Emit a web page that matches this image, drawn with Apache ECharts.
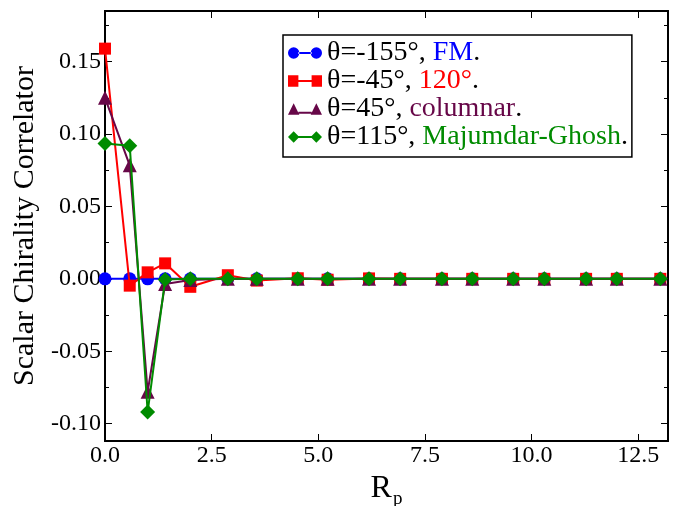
<!DOCTYPE html>
<html><head><meta charset="utf-8">
<script src="https://cdn.jsdelivr.net/npm/echarts@6/dist/echarts.min.js"></script>
<style>html,body{margin:0;padding:0;background:#fff}#c{width:680px;height:506px}</style>
</head><body><div id="c"></div>
<script>
const xValues = [0, 0.58, 1.0, 1.41, 2.0, 2.88, 3.56, 4.52, 5.22, 6.19, 6.92, 7.9, 8.61, 9.57, 10.3, 11.28, 12.0, 13.02];
const fmValues = [0, 0, 0, 0, 0, 0, 0, 0, 0, 0, 0, 0, 0, 0, 0, 0, 0, 0];
const v120Values = [0.159, -0.0047, 0.0045, 0.0107, -0.0055, 0.0025, -0.0012, 0.0004, -0.0006, 0.0003, 0, 0, 0, 0, 0, 0, 0, 0];
const columnarValues = [0.125, 0.0784, -0.078, -0.0035, -0.0008, 0, 0, 0, 0, 0, 0, 0, 0, 0, 0, 0, 0, 0];
const mgValues = [0.0935, 0.092, -0.092, -0.0005, 0, 0, 0, 0, 0, 0, 0, 0, 0, 0, 0, 0, 0, 0];
const xTicks = [0, 2.5, 5, 7.5, 10, 12.5];
const yTicks = [-0.1, -0.05, 0, 0.05, 0.1, 0.15];
const yMinorTicks = [-0.075, -0.025, 0.025, 0.075, 0.125, 0.175];
const seriesNames = ['θ=-155°, FM.', 'θ=-45°, 120°.', 'θ=45°, columnar.', 'θ=115°, Majumdar-Ghosh.'];

const FONT = '"Liberation Serif", "DejaVu Serif", serif';
const BLUE = '#0000ff', RED = '#ff0000', PURPLE = '#670748', GREEN = '#008b00';
const colors = [BLUE, RED, PURPLE, GREEN];
const symbols = ['circle', 'rect', 'triangle', 'diamond'];
const symSizes = [13, 12, 14, 15];
const values = [fmValues, v120Values, columnarValues, mgValues];

const icons = [
  'path://M0,6a6,6 0 1,0 12,0a6,6 0 1,0 -12,0ZM11,5L25,5L25,7L11,7ZM24,6a6,6 0 1,0 12,0a6,6 0 1,0 -12,0Z',
  'path://M0,0L11,0L11,12L0,12ZM11,5L25,5L25,7L11,7ZM25,0L36,0L36,12L25,12Z',
  'path://M0,12L6,0L12,12ZM11,9L25,9L25,11L11,11ZM24,12L30,0L36,12Z',
  'path://M0,6L6,0L12,6L6,12ZM11,5L25,5L25,7L11,7ZM24,6L30,0L36,6L30,12Z'
];

const chart = echarts.init(document.getElementById('c'));
const yMin = -0.112, yMax = 0.185, xMin = 0, xMax = 13.2;

function yAx(pos, ticks, len, labels) {
  return {
    type: 'value', position: pos, min: yMin, max: yMax,
    axisLine: { show: true, onZero: false, lineStyle: { color: '#000', width: 2 } },
    axisTick: { show: true, inside: true, length: len, customValues: ticks, lineStyle: { color: '#000', width: 1 } },
    axisLabel: labels ? { show: true, customValues: yTicks, fontFamily: FONT, fontSize: 24, color: '#000', margin: 4,
      padding: [4, 0, 0, 0], formatter: v => v.toFixed(2) } : { show: false },
    splitLine: { show: false },
    name: labels ? 'Scalar Chirality Correlator' : '',
    nameLocation: 'middle', nameGap: 60,
    nameTextStyle: { fontFamily: FONT, fontSize: 30, color: '#000' }
  };
}
function xAx(pos, labels) {
  return {
    type: 'value', position: pos, min: xMin, max: xMax,
    axisLine: { show: true, onZero: false, lineStyle: { color: '#000', width: 2 } },
    axisTick: { show: true, inside: true, length: 7, customValues: xTicks, lineStyle: { color: '#000', width: 1 } },
    axisLabel: labels ? { show: true, customValues: xTicks, fontFamily: FONT, fontSize: 24, color: '#000', margin: 3,
      formatter: v => v.toFixed(1) } : { show: false },
    splitLine: { show: false },
    name: labels ? '{r|R}{p|p}' : '',
    nameLocation: 'middle', nameGap: 10,
    nameTextStyle: { rich: { r: { fontFamily: FONT, fontSize: 32, color: '#000' }, p: { fontFamily: FONT, fontSize: 19, color: '#000', padding: [20, 0, 0, 1] } } }
  };
}

const labelColors = ['b', 'r', 'm', 'g'];
const prefixes = ['θ=-155°, ', 'θ=-45°, ', 'θ=45°, ', 'θ=115°, '];
const colored = ['FM', '120°', 'columnar', 'Majumdar-Ghosh'];
const LFS = 28, LLH = 29;

chart.setOption({
  animation: false,
  backgroundColor: '#fff',
  grid: { left: 105, right: 12, top: 11, bottom: 65, containLabel: false, outerBoundsMode: 'none' },
  xAxis: [xAx('bottom', true), xAx('top', false)],
  yAxis: [yAx('left', yTicks, 7, true), yAx('right', yTicks, 7, false), yAx('left', yMinorTicks, 4, false), yAx('right', yMinorTicks, 4, false)],
  legend: {
    orient: 'vertical', left: 283, top: 35,
    backgroundColor: '#fff', borderColor: '#000', borderWidth: 1.5,
    padding: [4, 4, 6, 5], itemWidth: 34, itemHeight: 12, itemGap: 0,
    data: seriesNames.map((n, i) => ({ name: n, icon: icons[i], itemStyle: { color: colors[i] } })),
    formatter: name => {
      const i = seriesNames.indexOf(name);
      return '{k|' + prefixes[i] + '}{' + labelColors[i] + '|' + colored[i] + '}{k|.}';
    },
    textStyle: {
      fontFamily: FONT, fontSize: LFS, color: '#000', padding: [0, 0, 0, 0],
      rich: {
        k: { fontFamily: FONT, fontSize: LFS, lineHeight: LLH, color: '#000' },
        b: { fontFamily: FONT, fontSize: LFS, lineHeight: LLH, color: BLUE },
        r: { fontFamily: FONT, fontSize: LFS, lineHeight: LLH, color: RED },
        m: { fontFamily: FONT, fontSize: LFS, lineHeight: LLH, color: PURPLE },
        g: { fontFamily: FONT, fontSize: LFS, lineHeight: LLH, color: GREEN }
      }
    }
  },
  series: seriesNames.map((n, i) => ({
    name: n, type: 'line', xAxisIndex: 0, yAxisIndex: 0,
    data: xValues.map((x, j) => [x, values[i][j]]),
    symbol: symbols[i], symbolSize: symSizes[i], showAllSymbol: true,
    lineStyle: { color: colors[i], width: 2 },
    itemStyle: { color: colors[i], opacity: 1 },
    clip: false, z: 2 + i
  }))
});
</script></body></html>
